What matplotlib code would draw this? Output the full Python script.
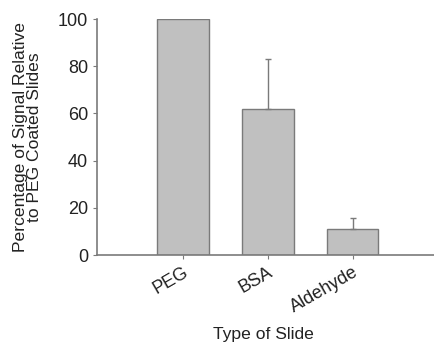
import numpy as np
import matplotlib.pyplot as plt
import matplotlib.transforms as mtransforms

plt.rcParams['font.family'] = ['Liberation Sans', 'DejaVu Sans']

# data
slides = ['PEG', 'BSA', 'Aldehyde']
signal = [100, 62, 11]
err_up = [0, 21, 4.5]

fig = plt.figure(figsize=(4.35, 3.44), dpi=100)
ax = fig.add_axes([97/435, 1 - 255/344, (434 - 97)/435, (255 - 19)/344])

x = np.arange(len(slides))
ax.bar(x, signal, width=0.61, color='#c0c0c0', edgecolor='#7a7a7a', linewidth=1.0, zorder=2)

# only draw error bars that are non-zero
has_err = [i for i, e in enumerate(err_up) if e > 0]
ax.errorbar(x[has_err], [signal[i] for i in has_err],
            yerr=[[0]*len(has_err), [err_up[i] for i in has_err]],
            fmt='none', ecolor='#7a7a7a', elinewidth=1.0,
            capsize=2.2, capthick=1.0, zorder=3)

ax.set_xlim(-1.01, 2.96)
ax.set_ylim(0, 100)
ax.set_yticks([0, 20, 40, 60, 80, 100])
ax.set_xticks(x)
ax.set_xticklabels(slides, rotation=30, ha='right', rotation_mode='anchor')

# shift the rotated labels a bit to the right, like the original
shift = mtransforms.ScaledTranslation(11/100, 0, fig.dpi_scale_trans)
for lab in ax.get_xticklabels():
    lab.set_transform(lab.get_transform() + shift)

for s in ['top', 'right']:
    ax.spines[s].set_visible(False)
for s in ['left', 'bottom']:
    ax.spines[s].set_color('#7a7a7a')
    ax.spines[s].set_linewidth(1.2)
ax.tick_params(axis='both', colors='#7a7a7a', labelcolor='#222222', length=3,
               labelsize=13)
ax.tick_params(axis='x', pad=3)

ax.set_ylabel('Percentage of Signal Relative\nto PEG Coated Slides', fontsize=12.6,
              color='#222222', labelpad=11, linespacing=0.95)
ax.set_xlabel('Type of Slide', fontsize=12.6, color='#222222')
ax.xaxis.set_label_coords(0.493, -0.305)

fig.savefig('out.png', dpi=100)
